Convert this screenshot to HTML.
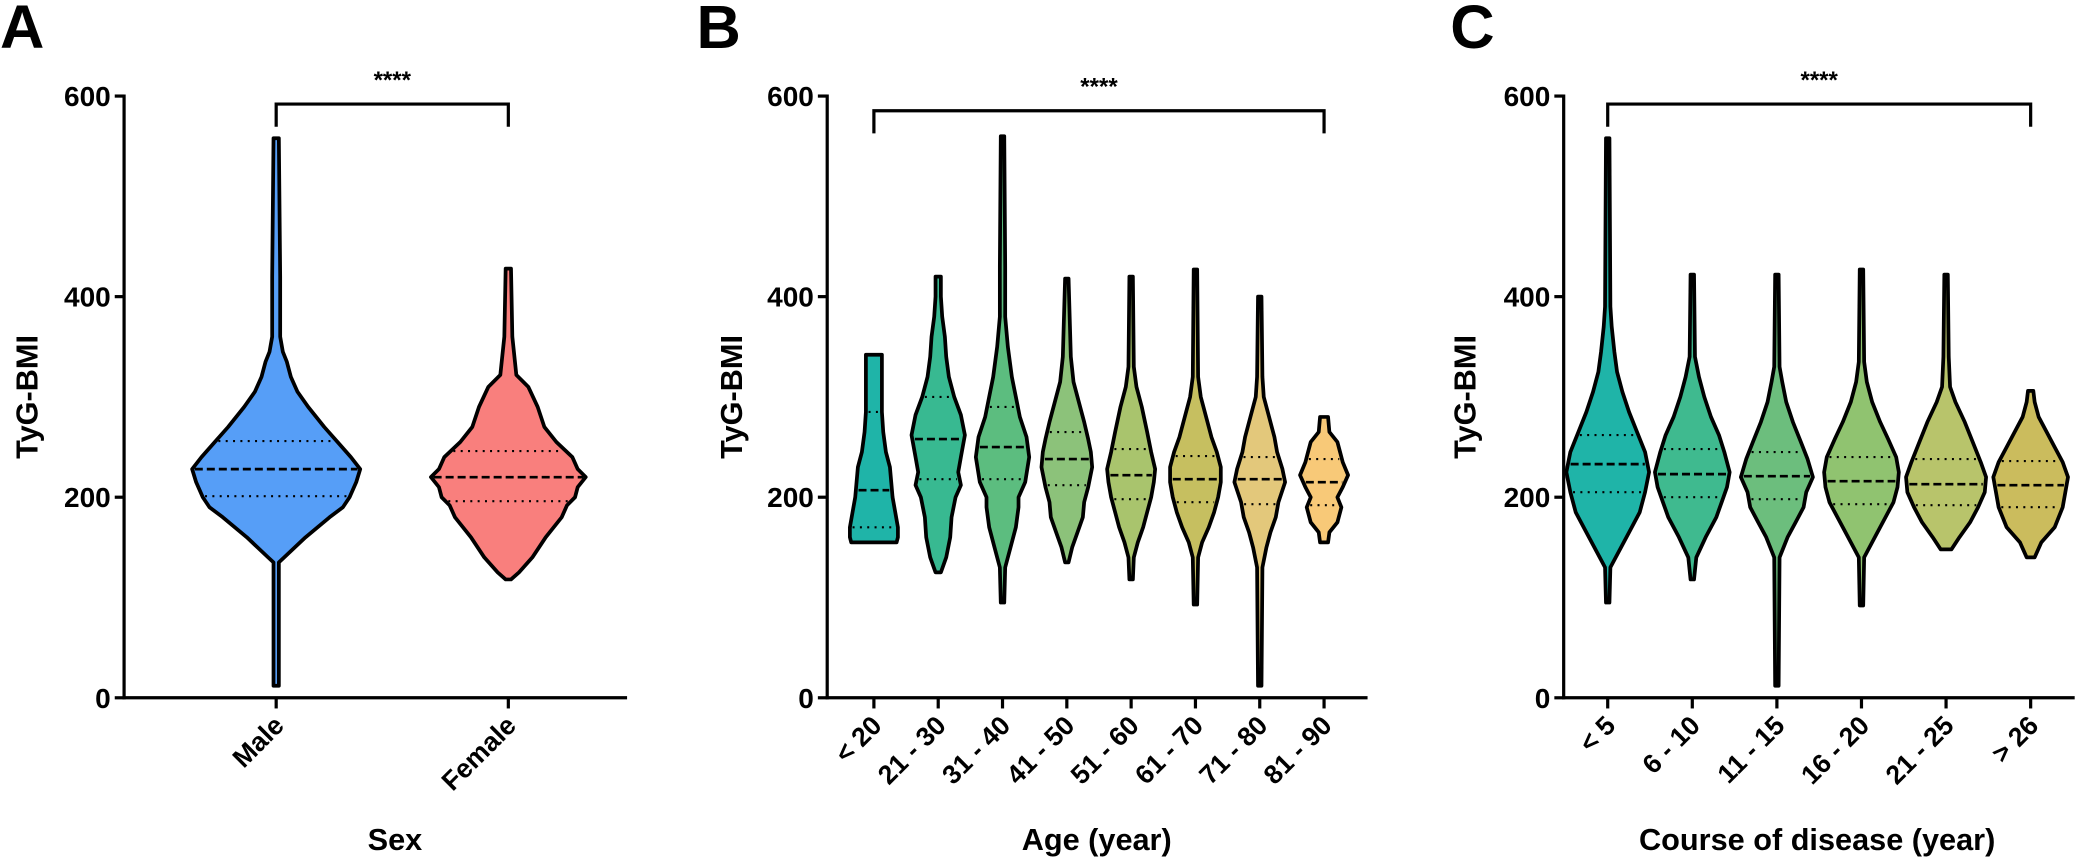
<!DOCTYPE html>
<html><head><meta charset="utf-8">
<style>
html,body{margin:0;padding:0;background:#fff;}
svg{display:block;font-family:"Liberation Sans",Arial,sans-serif;font-weight:bold;}
</style></head>
<body>
<svg id="fig" width="2092" height="861" viewBox="0 0 2092 861" xmlns="http://www.w3.org/2000/svg"><g id="root" transform="scale(1.3342)"></g></svg>
<script>
// ---------- DATA ----------
const panelACategories = ["Male","Female"];
const panelAColors = ["#569ef7","#f97f7d"];
const panelAStats = [ // [min, q1, median, q3, max]
  [12,201,228,256,558],
  [118,196,220,246,428]
];
const panelAProfiles = [ // [value, half-width (density)]
  [[12,2],[135,2],[140,6],[160,22],[180,40],[190,50],[200,55],[215,60],[228,63],[240,56],[255,46],[270,36],[290,24],[305,16],[320,11],[335,8],[345,5],[360,3],[420,3],[558,2]],
  [[118,2],[125,8],[140,18],[160,28],[180,40],[192,44],[200,50],[210,52],[220,58],[228,52],[240,48],[255,36],[270,27],[290,22],[310,15],[322,6],[360,3],[428,2]]
];
const panelBCategories = ["< 20","21 - 30","31 - 40","41 - 50","51 - 60","61 - 70","71 - 80","81 - 90"];
const panelBColors = ["#1fb4a8","#38b991","#5cbd7f","#8cc27a","#a9c46d","#c6bf60","#e3c87b","#f8c978"];
const panelBStats = [
  [155,170,207,285,342],
  [125,218,258,300,420],
  [95,218,250,290,560],
  [135,212,238,265,418],
  [118,198,222,248,420],
  [93,195,218,241,427],
  [12,193,218,240,400],
  [155,192,215,238,280]
];
const panelBProfiles = [
  [[155,17],[160,18],[170,18],[185,16],[200,14],[215,13],[230,12],[245,9],[265,7],[285,6],[300,6],[320,6],[342,6]],
  [[125,2],[140,6],[160,9],[180,10],[200,13],[212,17],[225,15],[240,17],[262,20],[282,17],[300,12],[320,8],[340,6],[360,5],[380,3],[400,2],[420,2]],
  [[95,1],[130,2],[150,6],[170,10],[190,12],[200,12],[215,17],[240,20],[260,18],[280,13],[300,10],[320,7],[350,4],[380,2],[430,2],[560,1]],
  [[135,1],[150,4],[165,8],[180,12],[195,13],[210,16],[230,19],[245,18],[258,16],[275,13],[295,9],[315,5],[340,3],[418,1]],
  [[118,1],[140,2],[155,5],[170,9],[185,12],[200,15],[215,17],[228,18],[245,15],[265,12],[290,8],[310,4],[330,2],[420,1]],
  [[93,1],[140,2],[155,5],[170,10],[185,14],[200,17],[215,19],[230,19],[245,16],[260,12],[280,8],[300,4],[320,2],[427,1]],
  [[12,1],[130,2],[150,5],[165,8],[180,12],[195,14],[215,19],[228,17],[245,13],[260,11],[280,7],[300,3],[320,2],[400,1]],
  [[155,3],[165,4],[175,10],[190,13],[200,10],[210,14],[222,18],[235,14],[245,12],[255,10],[265,4],[280,3]]
];
const panelCCategories = ["< 5","6 - 10","11 - 15","16 - 20","21 - 25","> 26"];
const panelCColors = ["#1fb4a8","#3fba8f","#6cbe7d","#90c370","#b8c46b","#cbbc5d"];
const panelCStats = [
  [95,205,233,262,558],
  [118,200,223,248,422],
  [12,198,221,245,422],
  [92,193,216,240,427],
  [148,192,213,238,422],
  [140,190,212,236,306]
];
const panelCProfiles = [
  [[95,1],[130,2],[145,8],[165,16],[185,24],[205,28],[225,31],[245,28],[265,22],[285,16],[305,11],[325,7],[345,5],[370,3],[390,2],[558,1]],
  [[118,1],[140,3],[160,10],[180,18],[195,22],[210,26],[225,28],[245,24],[262,20],[280,14],[300,9],[320,5],[340,2],[422,1]],
  [[12,1],[140,2],[160,8],[175,14],[190,20],[205,22],[220,27],[238,23],[255,18],[275,12],[295,7],[315,4],[330,2],[422,1]],
  [[92,1],[140,2],[160,10],[180,18],[195,24],[210,27],[225,28],[240,26],[258,20],[275,14],[295,8],[315,4],[335,2],[427,1]],
  [[148,4],[160,10],[175,18],[190,24],[205,29],[220,30],[235,26],[255,20],[275,14],[295,7],[310,3],[340,2],[422,1]],
  [[140,3],[155,8],[170,18],[190,24],[205,26],[220,28],[235,24],[250,18],[265,12],[280,6],[295,3],[306,2]]
];
const yTicks = [0,200,400,600];

// ---------- DRAW ----------
const NS = "http://www.w3.org/2000/svg";
const root = document.getElementById("root");
function mk(tag, attrs, parent){
  const e = document.createElementNS(NS, tag);
  for (const k in attrs) e.setAttribute(k, attrs[k]);
  (parent||root).appendChild(e);
  return e;
}
function interpW(profile, v){
  for (let i=0;i<profile.length-1;i++){
    const a=profile[i], b=profile[i+1];
    if (v>=a[0] && v<=b[0]) return a[1]+(b[1]-a[1])*(v-a[0])/(b[0]-a[0]);
  }
  return profile[profile.length-1][1];
}

function panel(cfg){
  const g = mk("g",{});
  
  
  const y = v => cfg.y0 - (v/600)*(cfg.y0-cfg.y600);
  const x = i => cfg.xStart + i*cfg.step;
  const ws = cfg.wScale;
  const L = mk("text",{x:cfg.letterX,y:36,"font-size":46,"text-anchor":"start"},g);
  L.textContent = cfg.letter;
  
  
  cfg.cats.forEach((c,i)=>{
    const st = cfg.stats[i], pr = cfg.profiles[i], cx = x(i);
    const vg = mk("g",{},g);
    
    
    const left=[], right=[];
    pr.forEach(p=>{ const w=Math.max(p[1]*ws,1.3); right.push([cx+w,y(p[0])]); left.push([cx-w,y(p[0])]); });
    const pts = right.concat(left.reverse());
    const d = "M"+pts.map(p=>p[0].toFixed(1)+","+p[1].toFixed(1)).join("L")+"Z";
    mk("path",{d:d,fill:cfg.colors[i],stroke:"#000","stroke-width":2.8,"stroke-linejoin":"round"},vg);
    [[st[1],"1.5,4"],[st[3],"1.5,4"],[st[2],"6,3"]].forEach(q=>{
      const w = interpW(pr,q[0])*ws - 2;
      mk("line",{x1:cx-w,x2:cx+w,y1:y(q[0]),y2:y(q[0]),stroke:"#000","stroke-width":q[1]==="6,3"?2:1.6,"stroke-dasharray":q[1]},vg);
    });
  });
  const ax = mk("g",{},g);
  
  
  mk("line",{x1:cfg.axisX,x2:cfg.axisX,y1:cfg.y600-1.2,y2:cfg.y0+1.2,stroke:"#000","stroke-width":2.4},ax);
  yTicks.forEach(t=>{
    mk("line",{x1:cfg.axisX-7,x2:cfg.axisX,y1:y(t),y2:y(t),stroke:"#000","stroke-width":2.4},ax);
    const tx = mk("text",{x:cfg.axisX-10,y:y(t)+7.5,"font-size":21,"text-anchor":"end"},ax);
    tx.textContent = t;
  });
  const yt = mk("text",{x:0,y:0,"font-size":23,"text-anchor":"middle",transform:`translate(${cfg.yTitleX},${y(300)}) rotate(-90)`},g);
  yt.textContent = "TyG-BMI";
  
  
  const xa = mk("g",{},g);
  
  
  mk("line",{x1:cfg.axisX-1.2,x2:cfg.xEnd,y1:cfg.y0,y2:cfg.y0,stroke:"#000","stroke-width":2.4},xa);
  cfg.cats.forEach((c,i)=>{
    mk("line",{x1:x(i),x2:x(i),y1:cfg.y0,y2:cfg.y0+8,stroke:"#000","stroke-width":2.4},xa);
    const t = mk("text",{x:0,y:0,"font-size":20,"text-anchor":"end",transform:`translate(${x(i)+7},${cfg.y0+22}) rotate(-45)`},xa);
    t.textContent = c;
    
    
  });
  const xt = mk("text",{x:cfg.xTitleX,y:637,"font-size":23,"text-anchor":"middle"},g);
  xt.textContent = cfg.xTitle;
  
  
  const bg = mk("g",{},g);
  
  
  const bx1 = x(0), bx2 = x(cfg.cats.length-1);
  mk("path",{d:`M${bx1},${cfg.brY+17}V${cfg.brY}H${bx2}V${cfg.brY+17}`,fill:"none",stroke:"#000","stroke-width":2.4},bg);
  const s = mk("text",{x:(bx1+bx2)/2,y:cfg.brY-12,"font-size":18,"text-anchor":"middle"},bg);
  s.textContent = "****";
}

panel({name:"panel-a-sex",letter:"A",letterX:0,axisX:93,y0:523,y600:72,xStart:207,step:174,xEnd:470,
  wScale:1,cats:panelACategories,colors:panelAColors,stats:panelAStats,profiles:panelAProfiles,
  yTitleX:28,xTitle:"Sex",xTitleX:296,brY:78});
panel({name:"panel-b-age",letter:"B",letterX:522,axisX:620,y0:523,y600:72,xStart:655,step:48.2,xEnd:1025,
  wScale:1,cats:panelBCategories,colors:panelBColors,stats:panelBStats,profiles:panelBProfiles,
  yTitleX:556,xTitle:"Age (year)",xTitleX:822,brY:83});
panel({name:"panel-c-course",letter:"C",letterX:1087,axisX:1172,y0:523,y600:72,xStart:1205,step:63.4,xEnd:1555,
  wScale:1,cats:panelCCategories,colors:panelCColors,stats:panelCStats,profiles:panelCProfiles,
  yTitleX:1106,xTitle:"Course of disease (year)",xTitleX:1362,brY:78});
</script>
</body></html>
